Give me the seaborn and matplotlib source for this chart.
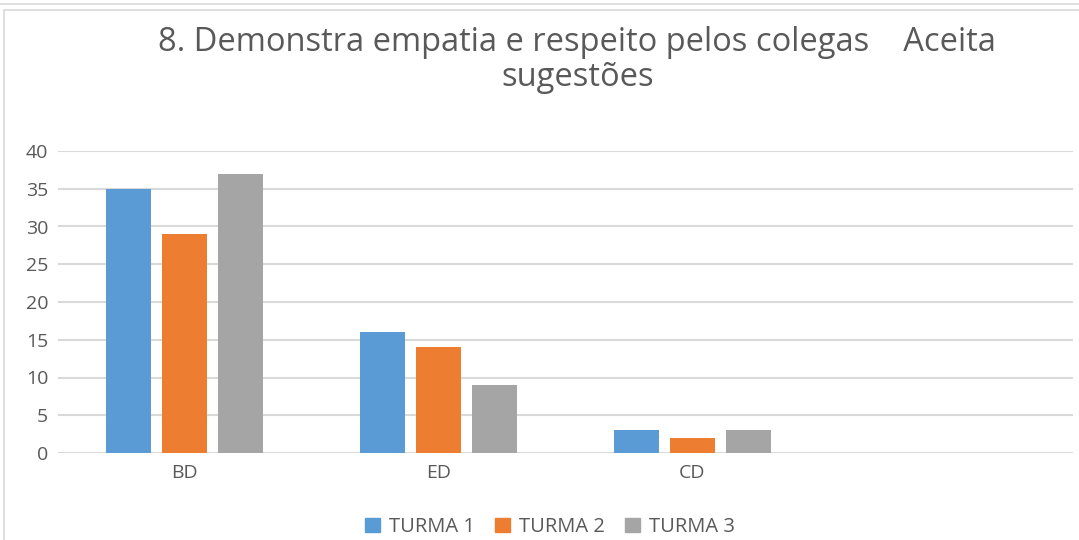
import matplotlib
matplotlib.use("Agg")
import matplotlib.pyplot as plt
import seaborn as sns
import pandas as pd
from matplotlib.patches import Rectangle
from matplotlib.lines import Line2D

categories = ["BD", "ED", "CD"]
series_names = ["TURMA 1", "TURMA 2", "TURMA 3"]
turma1 = [35, 16, 3]
turma2 = [29, 14, 2]
turma3 = [37, 9, 3]
yticks = [0, 5, 10, 15, 20, 25, 30, 35, 40]
title = "8. Demonstra empatia e respeito pelos colegas    Aceita\nsugestões"
colors = ["#5B9BD5", "#ED7D31", "#A5A5A5"]

rows = []
for name, vals in zip(series_names, [turma1, turma2, turma3]):
    for c, v in zip(categories, vals):
        rows.append({"cat": c, "turma": name, "val": v})
df = pd.DataFrame(rows)

sns.set_theme(style="white")
plt.rcParams["font.family"] = ["Open Sans", "DejaVu Sans"]

fig = plt.figure(figsize=(10.79, 5.40), dpi=100)
ax = fig.add_axes([58/1079, 1-453/540, (1073-58)/1079, (453-151)/540])

order = categories + [" "]
sns.barplot(data=df, x="cat", y="val", hue="turma", order=order,
            hue_order=series_names, palette=colors, width=0.662, gap=0.196,
            saturation=1, ax=ax, legend=False, errorbar=None, linewidth=0)

ax.set_xlim(-0.5, len(order) - 0.5)
ax.set_ylim(0, 40)
ax.set_yticks(yticks)
ax.set_yticklabels([str(t) for t in yticks])
ax.set_xticks(range(len(categories)))
ax.set_xticklabels(categories)
ax.set_xlabel("")
ax.set_ylabel("")
ax.grid(axis="y", color="#D9D9D9", linewidth=1.5)
ax.set_axisbelow(True)
for s in ax.spines.values():
    s.set_visible(False)
ax.tick_params(axis="both", length=0, labelsize=14, labelcolor="#595959")
ax.tick_params(axis="y", pad=7)
ax.tick_params(axis="x", pad=8)

fig.text(0.535, 1-60/540, title, ha="center", va="center", fontsize=23.5,
         color="#595959", linespacing=1.08)

# chart frame lines
fig.add_artist(Line2D([0, 1], [1-4/540, 1-4/540], color="#D9D9D9", lw=1.2, transform=fig.transFigure))
fig.add_artist(Line2D([4/1079, 1], [1-10/540, 1-10/540], color="#D9D9D9", lw=1.2, transform=fig.transFigure))
fig.add_artist(Line2D([4/1079, 4/1079], [0, 1-10/540], color="#D9D9D9", lw=1.2, transform=fig.transFigure))

handles = [Rectangle((0, 0), 1, 1, color=c) for c in colors]
fig.legend(handles, series_names, loc="center", bbox_to_anchor=(550/1079, 1-527/540),
           ncol=3, frameon=False, fontsize=14.5, labelcolor="#595959",
           handlelength=0.75, handleheight=0.75, handletextpad=0.45, columnspacing=1.0)

fig.savefig("out.png", dpi=100, facecolor="white")
